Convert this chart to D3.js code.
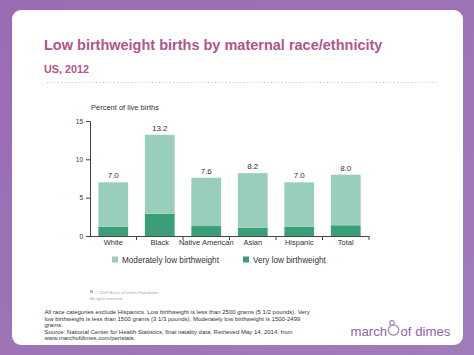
<!DOCTYPE html>
<html><head><meta charset="utf-8">
<script src="https://cdn.jsdelivr.net/npm/d3@7"></script>
<style>body{margin:0;padding:0;overflow:hidden;}svg{display:block;}</style>
</head><body>
<script>
const categories = ["White", "Black", "Native American", "Asian", "Hispanic", "Total"];
const moderatelyLow = [5.8, 10.3, 6.3, 7.1, 5.8, 6.6];
const veryLow = [1.2, 2.9, 1.3, 1.1, 1.2, 1.4];
const yTicks = [0, 5, 10, 15];
const seriesNames = ["Moderately low birthweight", "Very low birthweight"];
const colors = {mod: "#99cfba", very: "#3a9e79"};

const W = 474, H = 355;
const svg = d3.select("body").append("svg").attr("width", W).attr("height", H);

const defs = svg.append("defs");
const g = defs.append("linearGradient").attr("id","bg").attr("x1","0").attr("y1","0").attr("x2","1").attr("y2","1");
g.append("stop").attr("offset","0").attr("stop-color","#9a6bb3");
g.append("stop").attr("offset","1").attr("stop-color","#a07cba");
svg.append("rect").attr("width", W).attr("height", H).attr("fill", "url(#bg)");
svg.append("rect").attr("x", 12).attr("y", 10).attr("width", 451).attr("height", 335).attr("rx", 9).attr("fill", "#fff");

const font = "Liberation Sans, Arial, Helvetica, sans-serif";
svg.append("text").attr("x", 44).attr("y", 50).attr("font-family", font).attr("font-weight", "bold")
  .attr("font-size", 14.5).attr("fill", "#b2548d").text("Low birthweight births by maternal race/ethnicity");
svg.append("text").attr("x", 44).attr("y", 73).attr("font-family", font).attr("font-weight", "bold")
  .attr("font-size", 10.8).attr("fill", "#b2548d").text("US, 2012");
svg.append("line").attr("x1", 47).attr("x2", 438).attr("y1", 82.5).attr("y2", 82.5)
  .attr("stroke", "#c8c8c8").attr("stroke-width", 1.2).attr("stroke-dasharray", "1.2,2.3");

const x = d3.scaleBand().domain(categories).range([90, 369]).paddingInner(0.36).paddingOuter(0.18);
const y = d3.scaleLinear().domain([0, 15]).range([236, 121]);

const chart = svg.append("g");
const data = categories.map((c, i) => ({c, mod: moderatelyLow[i], very: veryLow[i]}));
const stack = d3.stack().keys(["very", "mod"])(data);
chart.selectAll("g.s").data(stack).join("g").attr("fill", d => d.key === "very" ? colors.very : colors.mod)
  .selectAll("rect").data(d => d).join("rect")
  .attr("x", d => x(d.data.c)).attr("width", x.bandwidth())
  .attr("y", d => y(d[1])).attr("height", d => y(d[0]) - y(d[1]));

chart.selectAll("text.v").data(data).join("text")
  .attr("x", d => x(d.c) + x.bandwidth() / 2).attr("y", d => y(d.mod + d.very) - 4)
  .attr("text-anchor", "middle").attr("font-family", font).attr("font-size", 8).attr("fill", "#333")
  .text(d => (d.mod + d.very).toFixed(1));

// y axis
const yAx = svg.append("g").attr("transform", "translate(90,0)")
  .call(d3.axisLeft(y).tickValues(yTicks).tickSize(4).tickPadding(3));
yAx.select(".domain").attr("stroke", "#444");
yAx.selectAll("line").attr("stroke", "#444");
yAx.selectAll("text").attr("font-family", font).attr("font-size", 6.5).attr("fill", "#333");

// x axis
const xAx = svg.append("g").attr("transform", "translate(0,236)")
  .call(d3.axisBottom(x).tickSize(0).tickPadding(4));
xAx.select(".domain").attr("stroke", "#444").attr("d", "M90,0.5H369");
xAx.selectAll("text").attr("font-family", font).attr("font-size", 7.5).attr("fill", "#333");
const step = x.step();
const bounds = categories.map((c, i) => x(c) - x.paddingInner() * step / 2).slice(1).concat([369]);
xAx.selectAll("line.b").data(bounds).join("line").attr("class","b")
  .attr("x1", d => d).attr("x2", d => d).attr("y1", 0).attr("y2", 4).attr("stroke", "#444");

svg.append("text").attr("x", 91).attr("y", 110).attr("font-family", font).attr("font-size", 7.5)
  .attr("fill", "#333").text("Percent of live births");

// legend
const leg = svg.append("g");
const legX = [112, 243];
[colors.mod, colors.very].forEach((c, i) => {
  leg.append("rect").attr("x", legX[i]).attr("y", 256.5).attr("width", 6).attr("height", 6).attr("fill", c);
  leg.append("text").attr("x", legX[i] + 10).attr("y", 262.5).attr("font-family", font).attr("font-size", 8.2)
    .attr("fill", "#333").text(seriesNames[i]);
});

// copyright
svg.append("rect").attr("x", 90).attr("y", 290).attr("width", 3).attr("height", 3).attr("fill", "#bbb");
svg.append("text").attr("x", 95).attr("y", 293.5).attr("font-family", font).attr("font-size", 4)
  .attr("fill", "#aaa").text("© 2009 March of Dimes Foundation.");
svg.append("text").attr("x", 90).attr("y", 299.5).attr("font-family", font).attr("font-size", 4)
  .attr("fill", "#aaa").text("All rights reserved.");

const notes = [
  "All race categories exclude Hispanics. Low birthweight is less than 2500 grams (5 1/2 pounds). Very",
  "low birthweight is less than 1500 grams (3 1/3 pounds). Moderately low birthweight is 1500-2499",
  "grams.",
  "Source: National Center for Health Statistics, final natality data. Retrieved May 14, 2014, from",
  "www.marchofdimes.com/peristats."
];
svg.append("g").selectAll("text").data(notes).join("text")
  .attr("x", 44.5).attr("y", (d, i) => 314 + i * 6.6).attr("font-family", font).attr("font-size", 6)
  .attr("fill", "#333").text(d => d);

// logo
const logo = svg.append("g").attr("fill", "#8f62b0").attr("font-family", font).attr("font-size", 13.2);
logo.append("text").attr("x", 350.5).attr("y", 336).text("march");
logo.append("circle").attr("cx", 393.5).attr("cy", 330).attr("r", 5.2).attr("fill", "none").attr("stroke", "#a98ac4").attr("stroke-width", 1.3);
logo.append("circle").attr("cx", 392).attr("cy", 323).attr("r", 2.3).attr("fill", "none").attr("stroke", "#a98ac4").attr("stroke-width", 1.2);
logo.append("text").attr("x", 400.5).attr("y", 336).text("of dimes");
</script>
</body></html>
